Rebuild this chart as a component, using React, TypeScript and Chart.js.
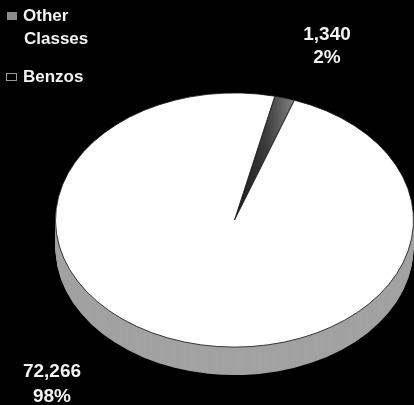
import React, { useEffect, useRef } from "react";
import { Chart, registerables } from "chart.js";

Chart.register(...registerables);

const categories = ["Other Classes", "Benzos"];
const counts = [1340, 72266];
const topColors = ["#5c5c5c", "#ffffff"];
const sideColors = ["#3a3a3a", "#a2a2a2"];
const legendMarkerColors = ["#8c8c8c", "#000000"];

const TILT = 0.71;
const DEPTH = 28;
const FONT = "'Liberation Sans', Arial, sans-serif";

const tiltPlugin = {
  id: "tilt3d",
  beforeDatasetsDraw(chart: any) {
    const ctx = chart.ctx;
    const arcs = chart.getDatasetMeta(0).data;
    ctx.save();
    if (!arcs.length) return;
    const cx = arcs[0].x;
    const cy = arcs[0].y;
    ctx.translate(cx, cy);
    ctx.scale(1, TILT);
    ctx.translate(-cx, -cy);
    for (let d = DEPTH; d >= 1; d--) {
      arcs.forEach((arc: any, i: number) => {
        const p = arc.getProps(["x", "y", "startAngle", "endAngle", "outerRadius"]);
        const yy = p.y + d / TILT;
        ctx.beginPath();
        ctx.moveTo(p.x, yy);
        ctx.arc(p.x, yy, p.outerRadius, p.startAngle, p.endAngle);
        ctx.closePath();
        ctx.fillStyle = sideColors[i];
        ctx.fill();
      });
    }
  },
  afterDatasetsDraw(chart: any) {
    chart.ctx.restore();
  },
};

const textPlugin = {
  id: "texts",
  afterDraw(chart: any) {
    const ctx = chart.ctx;
    const data: number[] = chart.data.datasets[0].data;
    const labels: string[] = chart.data.labels;
    const total = data.reduce((a, b) => a + b, 0);
    ctx.save();
    ctx.fillStyle = "#f2f2f2";
    ctx.textBaseline = "alphabetic";

    // legend
    ctx.font = `bold 17px ${FONT}`;
    ctx.textAlign = "left";
    ctx.fillStyle = legendMarkerColors[0];
    ctx.fillRect(7, 12, 10, 8);
    ctx.fillStyle = "#f2f2f2";
    const words = labels[0].split(" ");
    ctx.fillText(words[0], 23, 21);
    ctx.fillText(words.slice(1).join(" "), 24, 44);
    ctx.strokeStyle = "#9a9a9a";
    ctx.lineWidth = 1;
    ctx.strokeRect(6.5, 73.5, 10, 7);
    ctx.fillText(labels[1], 23, 82);

    // value labels
    ctx.font = `bold 19px ${FONT}`;
    ctx.textAlign = "center";
    const pos = [
      [327, 40, 63],
      [52, 377, 402],
    ];
    data.forEach((v, i) => {
      const pct = Math.round((v / total) * 100) + "%";
      ctx.fillText(v.toLocaleString("en-US"), pos[i][0], pos[i][1]);
      ctx.fillText(pct, pos[i][0], pos[i][2]);
    });
    ctx.restore();
  },
};

export default function App() {
  const ref = useRef<HTMLCanvasElement>(null);
  useEffect(() => {
    document.body.style.margin = "0";
    document.body.style.background = "#000";
    const chart = new Chart(ref.current as HTMLCanvasElement, {
      type: "pie",
      data: {
        labels: categories,
        datasets: [
          {
            data: counts,
            backgroundColor: (c: any) => {
              if (c.dataIndex !== 0) return topColors[c.dataIndex];
              const g = c.chart.ctx.createLinearGradient(238, 0, 300, 0);
              g.addColorStop(0, "#1e1e1e");
              g.addColorStop(0.45, "#3c3c3c");
              g.addColorStop(1, "#909090");
              return g;
            },
            borderColor: "#1a1a1a",
            borderWidth: 1,
          },
        ],
      },
      options: {
        animation: false,
        responsive: false,
        rotation: 13,
        layout: { padding: { left: 55, right: 0, top: 40, bottom: 5 } },
        plugins: {
          legend: { display: false },
          tooltip: { enabled: false },
        },
      },
      plugins: [tiltPlugin, textPlugin],
    } as any);
    return () => chart.destroy();
  }, []);
  return (
    <div style={{ width: 414, height: 405, background: "#000" }}>
      <canvas ref={ref} width={414} height={405} style={{ display: "block" }} />
    </div>
  );
}
